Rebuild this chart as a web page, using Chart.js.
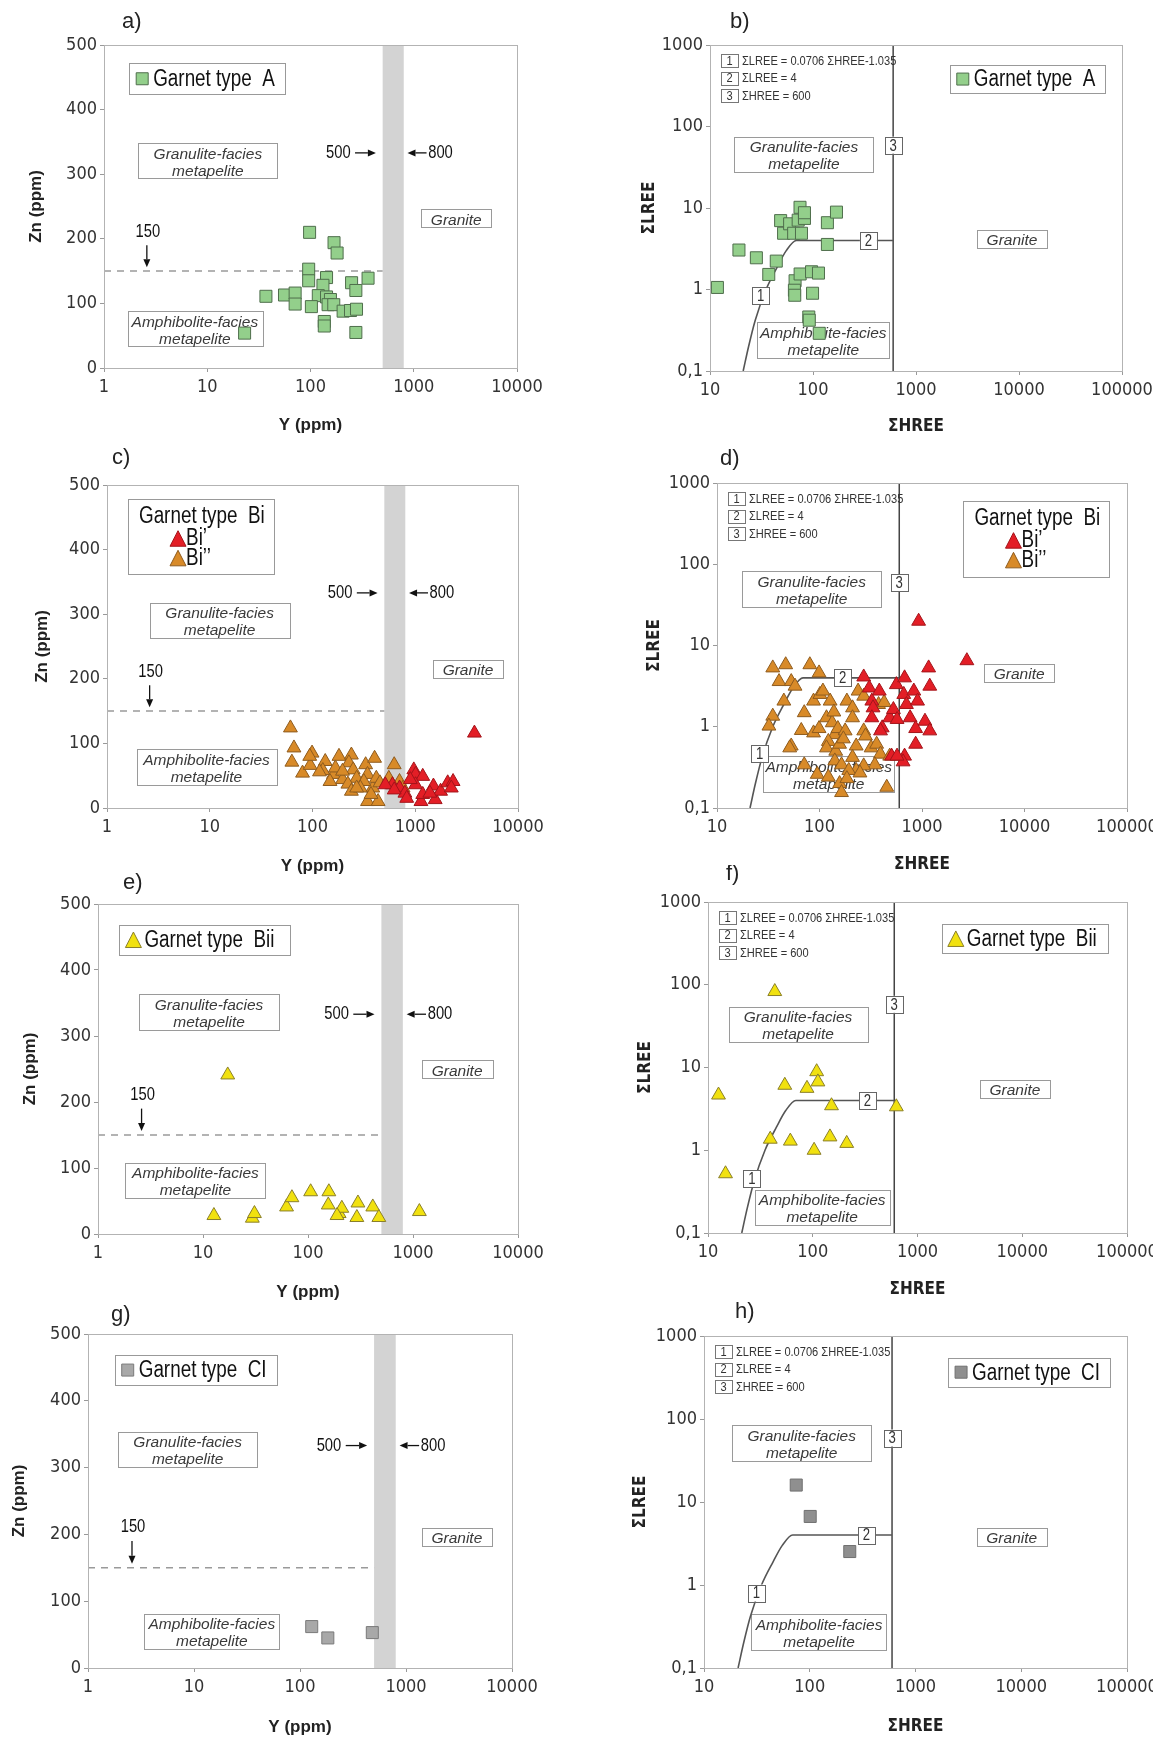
<!DOCTYPE html>
<html>
<head>
<meta charset="utf-8">
<script src="https://cdn.jsdelivr.net/npm/chart.js@4.4.1/dist/chart.umd.min.js"></script>
<style>
html, body { margin: 0; padding: 0; background: #fff; overflow: hidden; }
#page { position: relative; width: 1153px; height: 1740px; overflow: hidden; }
canvas { position: absolute; }
</style>
</head>
<body>
<div id="page"></div>
<script>
// ---- data ----
// garnet type A
const typeA_Y    = [98, 169, 181, 96, 96, 143, 250, 361, 275, 37, 56, 71, 71, 132, 119, 143, 156, 148, 168, 102, 207, 244, 279, 136, 136, 275, 23];
const typeA_Zn   = [210, 194, 178, 153, 135, 140, 132, 139, 120, 111, 113, 116, 99, 128, 112, 110, 106, 98, 98, 95, 88, 89, 91, 72, 65, 55, 54];
const typeA_HREE = [11.8, 19.1, 28.2, 44, 37.2, 48.5, 51.8, 59.3, 64.9, 74.8, 71.8, 82.6, 77.3, 82.6, 138, 169, 138, 67, 66, 66.5, 75, 96.8, 113, 99, 91, 92, 115];
const typeA_LREE = [1.06, 3.05, 2.45, 2.23, 1.53, 7.0, 4.9, 6.4, 4.9, 10.2, 7.1, 7.45, 4.9, 8.75, 6.6, 8.9, 3.57, 1.28, 0.98, 0.85, 1.55, 1.65, 1.59, 0.9, 0.46, 0.42, 0.29];

// garnet type Bi : Bi' (red) and Bi'' (orange)
const bi1_Y    = [600, 511, 703, 793, 968, 1007, 1183, 826, 1007, 1136, 1183, 1503, 1563, 1765, 2070, 2334, 2243, 3767, 894, 1387, 624];
const bi1_Zn   = [36, 36, 31, 23, 59, 52, 49, 15, 36, 10, 21, 34, 13, 26, 39, 41, 31, 116, 44, 23, 28];
const bi2_Y    = [61, 66, 63, 80, 99, 95, 94, 133, 126, 117, 160, 181, 196, 239, 226, 249, 269, 221, 239, 329, 343, 386, 402, 316, 343, 435, 292, 418, 453, 624, 553, 703, 762, 167, 196, 148, 269, 371];
const bi2_Zn   = [124, 93, 71, 54, 85, 66, 80, 72, 58, 56, 52, 80, 44, 82, 70, 59, 46, 37, 26, 67, 52, 31, 77, 41, 10, 10, 31, 46, 39, 67, 46, 41, 31, 62, 57, 41, 31, 21];
const bi1_HREE = [927, 2740, 270, 306, 383, 324, 333, 324, 409, 394, 484, 526, 562, 571, 676, 664, 705, 766, 832, 905, 1161, 1191, 1069, 1191, 867, 867, 505, 676, 654, 571];
const bi1_LREE = [19.9, 6.5, 4.1, 3.0, 2.75, 2.07, 1.71, 1.29, 0.97, 0.89, 1.29, 1.63, 3.3, 1.23, 4.0, 2.5, 1.88, 1.29, 2.75, 2.07, 5.3, 3.16, 1.17, 0.89, 0.95, 0.61, 0.435, 0.435, 0.37, 0.435];
const bi2_HREE = [35, 46.8, 80.5, 99, 40.3, 53, 57.7, 44.9, 35, 32.1, 53, 51.2, 66.4, 71, 87.5, 101, 108, 87.5, 99, 117,
                  127, 133, 138, 141, 151, 122, 117, 144, 157, 141, 164, 185, 210, 210, 238, 270, 178, 171, 228, 270,
                  281, 319, 361, 377, 427, 393, 347, 270, 228, 210, 95, 71, 122, 157, 164, 193, 248, 453, 484, 185];
const bi2_LREE = [5.3, 5.8, 5.8, 4.6, 3.6, 3.6, 3.16, 2.07, 1.35, 1.02, 0.58, 0.55, 0.9, 1.49, 2.07, 2.5, 2.75, 0.84, 0.95, 1.29,
                  2.07, 1.12, 1.52, 0.8, 0.95, 0.66, 0.55, 0.5, 0.61, 0.38, 0.34, 2.07, 1.71, 1.29, 2.75, 2.38, 0.89, 0.71, 0.58, 0.89,
                  0.77, 0.55, 0.61, 1.88, 1.99, 0.46, 0.34, 0.33, 0.29, 0.42, 0.26, 0.34, 0.24, 0.20, 0.155, 0.29, 0.27, 0.18, 0.435, 0.23];

// garnet type Bii
const bii_Y    = [17.2, 12.7, 29.5, 30.9, 62.5, 70.3, 106, 158, 156, 198, 210, 299, 292, 414, 473, 1150, 189];
const bii_Zn   = [241, 28, 24, 31, 41, 55, 64, 64, 44, 31, 39, 47, 25, 41, 25, 34, 28];
const bii_HREE = [43.4, 12.6, 54.1, 88.1, 109, 112, 151, 628, 39.3, 61.1, 103, 146, 211, 14.7];
const bii_LREE = [82.8, 4.65, 6.1, 5.6, 8.9, 6.7, 3.45, 3.35, 1.36, 1.29, 1.0, 1.45, 1.21, 0.52];

// garnet type CI
const ci_Y    = [129, 183, 481];
const ci_Zn   = [62, 45, 53];
const ci_HREE = [74.5, 101, 239];
const ci_LREE = [16, 6.7, 2.53];

// discrimination limits
const znLimit = 150;
const yBand = [500, 800];
const hreeLimit = 600;
const boundaryHREE = [21, 23.7, 27.5, 35, 45, 55, 69, 600];
const boundaryLREE = [0.1, 0.2, 0.42, 1, 1.9, 3, 4, 4];

// axes
const yppmTicks = [1, 10, 100, 1000, 10000];
const znTicks = [0, 100, 200, 300, 400, 500];
const hreeTicks = [10, 100, 1000, 10000, 100000];
const lreeTicks = [0.1, 1, 10, 100, 1000];
const lreeTickLabels = ['0,1', '1', '10', '100', '1000'];
const keyLabels = ['ΣLREE = 0.0706 ΣHREE-1.035', 'ΣLREE = 4', 'ΣHREE = 600'];

// ---- look ----
const NARROW = "'DejaVu Sans Condensed', 'Liberation Sans', sans-serif";
const SANS = "'Liberation Sans', Arial, sans-serif";

const STYLE = {
  A:   { style: 'rect', r: 8.5, bg: '#93cf8b', bd: '#4f6e4c' },
  bi1: { style: 'triangle', r: 8, bg: '#e31e26', bd: '#a3141a' },
  bi2: { style: 'triangle', r: 8, bg: '#d88a28', bd: '#8e5b1e' },
  bii: { style: 'triangle', r: 8, bg: '#f1e10f', bd: '#8a7f2a' },
  ci:  { style: 'rect', r: 8.5, bg: '#a8a8a8', bd: '#7a7a7a' },
  ciH: { style: 'rect', r: 8.5, bg: '#8f8f8f', bd: '#707070' }
};

// canvas: [left, top, width, height]; area: [l, t, r, b] in page pixels; boxes in fractions of the plot area
const panels = [
  { id: 'a', kind: 'zn', canvas: [0, 0, 575, 440], area: [104, 45, 517, 368], letter: [122, 22], yTitle: 36, xTitle: 425,
    series: [[typeA_Y, typeA_Zn, STYLE.A]], legend: { box: [0.061, 0.057, 0.439, 0.152], text: 'Garnet type  A', st: STYLE.A },
    gran: [0.083, 0.304, 0.420, 0.413], amph: [0.057, 0.825, 0.383, 0.933], granite: [0.768, 0.508, 0.938, 0.564] },
  { id: 'b', kind: 'ree', canvas: [575, 0, 600, 440], area: [710, 45, 1122, 371], letter: [730, 22], yTitle: 650, xTitle: 427,
    series: [[typeA_HREE, typeA_LREE, STYLE.A]], legend: { box: [0.582, 0.061, 0.959, 0.148], text: 'Garnet type  A', st: STYLE.A },
    gran: [0.059, 0.281, 0.397, 0.389], amph: [0.115, 0.850, 0.435, 0.960], granite: [0.648, 0.566, 0.818, 0.621],
    nums: [[31, 0.84], [345, 4], [600, 59]] },
  { id: 'c', kind: 'zn', canvas: [0, 435, 575, 445], area: [107, 485, 518, 808], letter: [112, 458], yTitle: 42, xTitle: 866,
    series: [[bi1_Y, bi1_Zn, STYLE.bi1], [bi2_Y, bi2_Zn, STYLE.bi2]], legend: { box: [0.050, 0.043, 0.406, 0.276], bi: true },
    gran: [0.104, 0.364, 0.444, 0.472], amph: [0.072, 0.818, 0.412, 0.928], granite: [0.793, 0.541, 0.964, 0.596] },
  { id: 'd', kind: 'ree', canvas: [575, 435, 600, 445], area: [717, 483, 1127, 808], letter: [720, 459], yTitle: 655, xTitle: 865,
    series: [[bi1_HREE, bi1_LREE, STYLE.bi1], [bi2_HREE, bi2_LREE, STYLE.bi2]], legend: { box: [0.600, 0.054, 0.957, 0.287], bi: true },
    gran: [0.061, 0.272, 0.401, 0.382], amph: [0.113, 0.841, 0.432, 0.952], granite: [0.652, 0.557, 0.822, 0.612],
    nums: [[26, 0.47], [168, 4], [600, 59]] },
  { id: 'e', kind: 'zn', canvas: [0, 865, 575, 440], area: [98, 904, 518, 1234], letter: [123, 883], yTitle: 30, xTitle: 1292,
    series: [[bii_Y, bii_Zn, STYLE.bii]], legend: { box: [0.051, 0.063, 0.457, 0.154], text: 'Garnet type  Bii', st: STYLE.bii },
    gran: [0.098, 0.273, 0.431, 0.381], amph: [0.065, 0.784, 0.399, 0.890], granite: [0.771, 0.474, 0.939, 0.528] },
  { id: 'f', kind: 'ree', canvas: [575, 865, 600, 440], area: [708, 902, 1127, 1233], letter: [726, 874], yTitle: 646, xTitle: 1290,
    series: [[bii_HREE, bii_LREE, STYLE.bii]], legend: { box: [0.558, 0.067, 0.954, 0.155], text: 'Garnet type  Bii', st: STYLE.bii },
    gran: [0.049, 0.316, 0.381, 0.422], amph: [0.111, 0.869, 0.434, 0.975], granite: [0.649, 0.538, 0.816, 0.591],
    nums: [[26.2, 0.45], [333, 4], [600, 58]] },
  { id: 'g', kind: 'zn', canvas: [0, 1298, 575, 442], area: [88, 1334, 512, 1668], letter: [111, 1315], yTitle: 19, xTitle: 1727,
    series: [[ci_Y, ci_Zn, STYLE.ci]], legend: { box: [0.063, 0.063, 0.444, 0.153], text: 'Garnet type  CI', st: STYLE.ci },
    gran: [0.071, 0.292, 0.399, 0.397], amph: [0.133, 0.838, 0.451, 0.943], granite: [0.788, 0.581, 0.952, 0.634] },
  { id: 'h', kind: 'ree', canvas: [575, 1298, 600, 442], area: [704, 1336, 1127, 1668], letter: [735, 1312], yTitle: 641, xTitle: 1727,
    series: [[ci_HREE, ci_LREE, STYLE.ciH]], legend: { box: [0.577, 0.065, 0.959, 0.153], text: 'Garnet type  CI', st: STYLE.ciH },
    gran: [0.067, 0.269, 0.395, 0.376], amph: [0.112, 0.838, 0.432, 0.945], granite: [0.645, 0.577, 0.810, 0.631],
    nums: [[31.3, 0.80], [344, 4], [600, 59]] }
];

// ---- drawing helpers ----
function rectFrac(a, f) {
  const w = a.right - a.left, h = a.bottom - a.top;
  return { x: a.left + f[0] * w, y: a.top + f[1] * h, w: (f[2] - f[0]) * w, h: (f[3] - f[1]) * h };
}

// squeezed Arial, standing in for Arial Narrow
function narrowText(ctx, txt, x, y, px, align, color) {
  ctx.save();
  ctx.font = px + 'px ' + SANS;
  ctx.fillStyle = color || '#111';
  ctx.textAlign = align || 'left';
  ctx.textBaseline = 'middle';
  ctx.translate(x, y);
  ctx.scale(0.82, 1);
  ctx.fillText(txt, 0, 0);
  ctx.restore();
}

function outline(ctx, r, color) {
  ctx.fillStyle = '#fff';
  ctx.fillRect(r.x, r.y, r.w, r.h);
  ctx.strokeStyle = color || '#9a9a9a';
  ctx.lineWidth = 1;
  ctx.strokeRect(Math.round(r.x) + 0.5, Math.round(r.y) + 0.5, Math.round(r.w), Math.round(r.h));
}

function labelBox(ctx, a, f, lines) {
  const r = rectFrac(a, f);
  outline(ctx, r);
  ctx.fillStyle = '#3a3a3a';
  ctx.font = 'italic 15.5px ' + SANS;
  ctx.textAlign = 'center';
  ctx.textBaseline = 'middle';
  const cx = r.x + r.w / 2;
  if (lines.length === 2) {
    ctx.fillText(lines[0], cx, r.y + r.h * 0.32);
    ctx.fillText(lines[1], cx, r.y + r.h * 0.80);
  } else {
    ctx.fillText(lines[0], cx, r.y + r.h * 0.62);
  }
}

function arrow(ctx, x0, y0, x1, y1) {
  const ang = Math.atan2(y1 - y0, x1 - x0), hl = 8, hw = 3.5;
  const c = Math.cos(ang), s = Math.sin(ang);
  ctx.strokeStyle = '#111';
  ctx.fillStyle = '#111';
  ctx.lineWidth = 1.3;
  ctx.beginPath();
  ctx.moveTo(x0, y0);
  ctx.lineTo(x1 - hl * c, y1 - hl * s);
  ctx.stroke();
  ctx.beginPath();
  ctx.moveTo(x1, y1);
  ctx.lineTo(x1 - hl * c + hw * s, y1 - hl * s - hw * c);
  ctx.lineTo(x1 - hl * c - hw * s, y1 - hl * s + hw * c);
  ctx.closePath();
  ctx.fill();
}

function marker(ctx, st, cx, cy, size) {
  ctx.fillStyle = st.bg;
  ctx.strokeStyle = st.bd;
  ctx.lineWidth = 1;
  ctx.beginPath();
  if (st.style === 'rect') {
    ctx.rect(cx - size / 2, cy - size / 2, size, size);
  } else {
    ctx.moveTo(cx, cy - size * 0.55);
    ctx.lineTo(cx + size / 2, cy + size * 0.42);
    ctx.lineTo(cx - size / 2, cy + size * 0.42);
    ctx.closePath();
  }
  ctx.fill();
  ctx.stroke();
}

function numBox(ctx, cx, cy, txt) {
  outline(ctx, { x: cx - 8.5, y: cy - 8.5, w: 17, h: 17 }, '#666');
  narrowText(ctx, txt, cx, cy + 1, 16, 'center', '#333');
}

function decor(p) {
  const ox = p.canvas[0], oy = p.canvas[1];
  return {
    id: 'decor_' + p.id,
    beforeDatasetsDraw(chart) {
      const { ctx, chartArea: a, scales: { x } } = chart;
      ctx.save();
      if (p.kind === 'zn') {
        const x0 = x.getPixelForValue(yBand[0]), x1 = x.getPixelForValue(yBand[1]);
        ctx.fillStyle = '#d3d3d3';
        ctx.fillRect(x0, a.top, x1 - x0, a.bottom - a.top);
      }
      labelBox(ctx, a, p.gran, ['Granulite-facies', 'metapelite']);
      labelBox(ctx, a, p.amph, ['Amphibolite-facies', 'metapelite']);
      labelBox(ctx, a, p.granite, ['Granite']);
      ctx.restore();
    },
    afterDatasetsDraw(chart) {
      const { ctx, chartArea: a, scales: { x, y } } = chart;
      ctx.save();
      // plot frame
      ctx.strokeStyle = '#b3b3b3';
      ctx.lineWidth = 1;
      ctx.strokeRect(Math.round(a.left) + 0.5, Math.round(a.top) + 0.5, Math.round(a.right - a.left), Math.round(a.bottom - a.top));

      if (p.kind === 'zn') {
        // 150 marker
        const ax = x.getPixelForValue(2.6);
        narrowText(ctx, String(znLimit), ax + 1, y.getPixelForValue(211), 18, 'center');
        arrow(ctx, ax, y.getPixelForValue(190), ax, y.getPixelForValue(156));
        // 500 / 800 markers
        const yy = y.getPixelForValue(333);
        narrowText(ctx, String(yBand[0]), x.getPixelForValue(245), yy, 18, 'right');
        arrow(ctx, x.getPixelForValue(270), yy, x.getPixelForValue(430), yy);
        narrowText(ctx, String(yBand[1]), x.getPixelForValue(1380), yy, 18, 'left');
        arrow(ctx, x.getPixelForValue(1330), yy, x.getPixelForValue(870), yy);
      } else {
        // numbered limits
        p.nums.forEach((n, i) => numBox(ctx, x.getPixelForValue(n[0]), y.getPixelForValue(n[1]), String(i + 1)));
        // key
        keyLabels.forEach((t, i) => {
          const kx = a.left + 11, ky = a.top + 9 + i * 17.7;
          outline(ctx, { x: kx, y: ky, w: 17, h: 13 }, '#777');
          narrowText(ctx, String(i + 1), kx + 8.5, ky + 7, 13.5, 'center', '#333');
          narrowText(ctx, t, kx + 21, ky + 7, 13.5, 'left', '#333');
        });
      }

      // legend
      const L = p.legend, r = rectFrac(a, L.box);
      outline(ctx, r, '#999');
      if (L.bi) {
        narrowText(ctx, 'Garnet type  Bi', r.x + 0.078 * r.w, r.y + 0.235 * r.h, 23);
        marker(ctx, STYLE.bi1, r.x + 0.345 * r.w, r.y + 0.54 * r.h, 16);
        marker(ctx, STYLE.bi2, r.x + 0.345 * r.w, r.y + 0.80 * r.h, 16);
        narrowText(ctx, 'Bi’', r.x + 0.40 * r.w, r.y + 0.53 * r.h, 23);
        narrowText(ctx, 'Bi’’', r.x + 0.40 * r.w, r.y + 0.79 * r.h, 23);
      } else {
        const tri = L.st.style !== 'rect';
        marker(ctx, L.st, r.x + (tri ? 14 : 13), r.y + r.h / 2 + (tri ? 1 : 0), tri ? 16 : 12);
        narrowText(ctx, L.text, r.x + (tri ? 25 : 24), r.y + r.h / 2 + 1, 23);
      }

      // panel letter
      ctx.font = '22px ' + SANS;
      ctx.fillStyle = '#222';
      ctx.textAlign = 'left';
      ctx.textBaseline = 'middle';
      ctx.fillText(p.id + ')', p.letter[0] - ox, p.letter[1] - oy);
      ctx.restore();
    }
  };
}

// ---- build charts ----
const page = document.getElementById('page');

panels.forEach(p => {
  const [cl, ct, cw, chh] = p.canvas;
  const [l, t, r, b] = p.area;
  const cv = document.createElement('canvas');
  cv.width = cw; cv.height = chh;
  cv.style.left = cl + 'px'; cv.style.top = ct + 'px';
  page.appendChild(cv);

  const zn = p.kind === 'zn';
  const datasets = p.series.map(([xs, ys, st]) => ({
    data: xs.map((v, i) => ({ x: v, y: ys[i] })),
    pointStyle: st.style,
    pointRadius: st.r,
    backgroundColor: st.bg,
    borderColor: st.bd,
    borderWidth: 1
  }));
  if (zn) {
    datasets.push({
      data: [{ x: 1, y: znLimit }, { x: yBand[0], y: znLimit }],
      showLine: true, pointRadius: 0, borderColor: '#9a9a9a', borderWidth: 1.5, borderDash: [7, 6]
    });
  } else {
    datasets.push({
      data: boundaryHREE.map((v, i) => ({ x: v, y: boundaryLREE[i] })),
      showLine: true, pointRadius: 0, borderColor: '#555', borderWidth: 1.6, cubicInterpolationMode: 'monotone'
    });
    datasets.push({
      data: [{ x: hreeLimit, y: 0.1 }, { x: hreeLimit, y: 1000 }],
      showLine: true, pointRadius: 0, borderColor: '#444', borderWidth: 1.5
    });
  }

  const titleFont = zn ? { family: SANS, size: 17, weight: 'bold' } : { family: NARROW, size: 17, weight: 'bold' };
  const lh = 17 * 1.2;
  const tickFont = { family: NARROW, size: 18 };
  const gridOpt = { display: true, drawOnChartArea: false, drawTicks: true, tickLength: 4, color: '#999' };

  new Chart(cv, {
    type: 'scatter',
    data: { datasets },
    options: {
      responsive: false,
      animation: false,
      events: [],
      layout: { padding: { left: 0, top: t - ct, right: cl + cw - r, bottom: 0 } },
      plugins: { legend: { display: false }, tooltip: { enabled: false } },
      scales: {
        x: {
          type: 'logarithmic',
          min: zn ? 1 : 10,
          max: zn ? 10000 : 100000,
          afterBuildTicks: s => { s.ticks = (zn ? yppmTicks : hreeTicks).map(v => ({ value: v })); },
          afterFit: s => { s.height = ct + chh - b; },
          ticks: { callback: v => String(v), font: tickFont, color: '#333', padding: 5, maxRotation: 0, autoSkip: false },
          grid: gridOpt,
          border: { color: '#aaa' },
          title: { display: true, text: zn ? 'Y (ppm)' : 'ΣHREE', font: titleFont, color: '#222',
                   padding: { top: 0, bottom: chh - (p.xTitle - ct) - lh / 2 } }
        },
        y: zn ? {
          type: 'linear', min: 0, max: 500,
          afterBuildTicks: s => { s.ticks = znTicks.map(v => ({ value: v })); },
          afterFit: s => { s.width = l - cl; },
          ticks: { font: tickFont, color: '#333', padding: 3 },
          grid: gridOpt,
          border: { color: '#aaa' },
          title: { display: true, text: 'Zn (ppm)', font: titleFont, color: '#222',
                   padding: { top: (p.yTitle - cl) - lh / 2, bottom: 0 } }
        } : {
          type: 'logarithmic', min: 0.1, max: 1000,
          afterBuildTicks: s => { s.ticks = lreeTicks.map(v => ({ value: v })); },
          afterFit: s => { s.width = l - cl; },
          ticks: { callback: (v, i) => lreeTickLabels[i], font: tickFont, color: '#333', padding: 3 },
          grid: gridOpt,
          border: { color: '#aaa' },
          title: { display: true, text: 'ΣLREE', font: titleFont, color: '#222',
                   padding: { top: (p.yTitle - cl) - lh / 2, bottom: 0 } }
        }
      }
    },
    plugins: [decor(p)]
  });
});
</script>
</body>
</html>
